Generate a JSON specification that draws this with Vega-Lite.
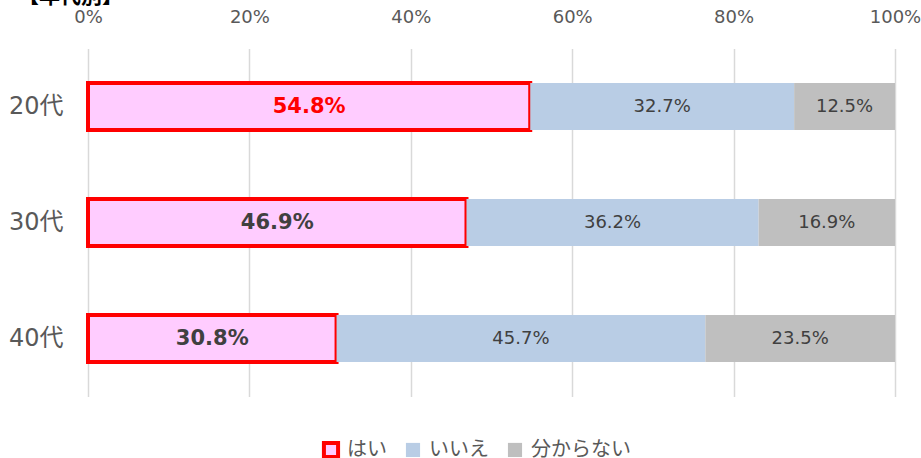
{
  "$schema": "https://vega.github.io/schema/vega-lite/v6.json",
  "width": 807,
  "height": 348,
  "autosize": {"type": "none"},
  "padding": {"left": 88, "top": 48.5, "right": 26, "bottom": 61.5},
  "background": "white",
  "title": {"text": "【年代別】", "anchor": "start", "frame": "group", "dx": -70, "dy": 2, "fontSize": 21, "fontWeight": "bold", "color": "#000000", "font": "Noto Sans CJK JP"},
  "config": {
    "view": {"stroke": null},
    "font": "DejaVu Sans, Noto Sans CJK JP"
  },
  "data": {
    "values": [
      {"age": "20代", "series": "はい", "n": 1, "value": 54.8},
      {"age": "20代", "series": "いいえ", "n": 2, "value": 32.7},
      {"age": "20代", "series": "分からない", "n": 3, "value": 12.5},
      {"age": "30代", "series": "はい", "n": 1, "value": 46.9},
      {"age": "30代", "series": "いいえ", "n": 2, "value": 36.2},
      {"age": "30代", "series": "分からない", "n": 3, "value": 16.9},
      {"age": "40代", "series": "はい", "n": 1, "value": 30.8},
      {"age": "40代", "series": "いいえ", "n": 2, "value": 45.7},
      {"age": "40代", "series": "分からない", "n": 3, "value": 23.5}
    ]
  },
  "transform": [
    {"stack": "value", "groupby": ["age"], "sort": [{"field": "n", "order": "ascending"}], "as": ["v0", "v1"]},
    {"calculate": "(datum.v0 + datum.v1) / 2", "as": "mid"},
    {"calculate": "format(datum.value, '.1f') + '%'", "as": "label"}
  ],
  "encoding": {
    "y": {
      "field": "age", "type": "nominal", "sort": ["20代", "30代", "40代"],
      "scale": {"paddingInner": 0.595, "paddingOuter": 0.2975},
      "axis": {"title": null, "domain": false, "ticks": false, "labelFontSize": 24, "labelColor": "#595959", "labelPadding": 25, "labelFont": "DejaVu Sans, Noto Sans CJK JP"}
    }
  },
  "layer": [
    {
      "mark": {"type": "bar", "strokeWidth": 4},
      "encoding": {
        "x": {
          "field": "v0", "type": "quantitative",
          "scale": {"domain": [0, 100], "nice": false},
          "axis": {"orient": "top", "title": null, "values": [0, 20, 40, 60, 80, 100], "labelExpr": "datum.value + '%'", "labelFlush": false, "labelOverlap": false, "domain": false, "ticks": false, "grid": true, "gridColor": "#D9D9D9", "gridWidth": 1.5, "labelFontSize": 18, "labelColor": "#595959", "labelPadding": 22, "labelFont": "DejaVu Sans"}
        },
        "x2": {"field": "v1"},
        "color": {
          "field": "series", "type": "nominal",
          "scale": {"domain": ["はい", "いいえ", "分からない"], "range": ["#FFCCFF", "#B9CDE5", "#BFBFBF"]},
          "legend": {"title": null, "orient": "none", "direction": "horizontal", "legendX": 233, "legendY": 391, "symbolType": "square", "symbolSize": 200, "symbolStrokeWidth": 4, "labelFontSize": 20, "labelColor": "#595959", "labelOffset": 6, "columnPadding": 10, "labelFont": "Noto Sans CJK JP"}
        },
        "stroke": {
          "field": "series", "type": "nominal",
          "scale": {"domain": ["はい", "いいえ", "分からない"], "range": ["#FF0000", "rgba(0,0,0,0)", "rgba(0,0,0,0)"]},
          "legend": {"title": null, "orient": "none", "direction": "horizontal", "legendX": 233, "legendY": 391, "symbolType": "square", "symbolSize": 200, "symbolStrokeWidth": 4, "labelFontSize": 20, "labelColor": "#595959", "labelOffset": 6, "columnPadding": 10, "labelFont": "Noto Sans CJK JP"}
        },
        "order": {"field": "n"}
      }
    },
    {
      "transform": [{"filter": "datum.series === 'はい'"}],
      "mark": {"type": "text", "fontSize": 21, "fontWeight": "bold", "font": "DejaVu Sans"},
      "encoding": {
        "x": {"field": "mid", "type": "quantitative"},
        "text": {"field": "label", "type": "nominal"},
        "color": {"condition": {"test": "datum.age === '20代'", "value": "#FF0000"}, "value": "#404040"}
      }
    },
    {
      "transform": [{"filter": "datum.series !== 'はい'"}],
      "mark": {"type": "text", "fontSize": 18, "color": "#404040", "font": "DejaVu Sans"},
      "encoding": {
        "x": {"field": "mid", "type": "quantitative"},
        "text": {"field": "label", "type": "nominal"}
      }
    }
  ]
}
